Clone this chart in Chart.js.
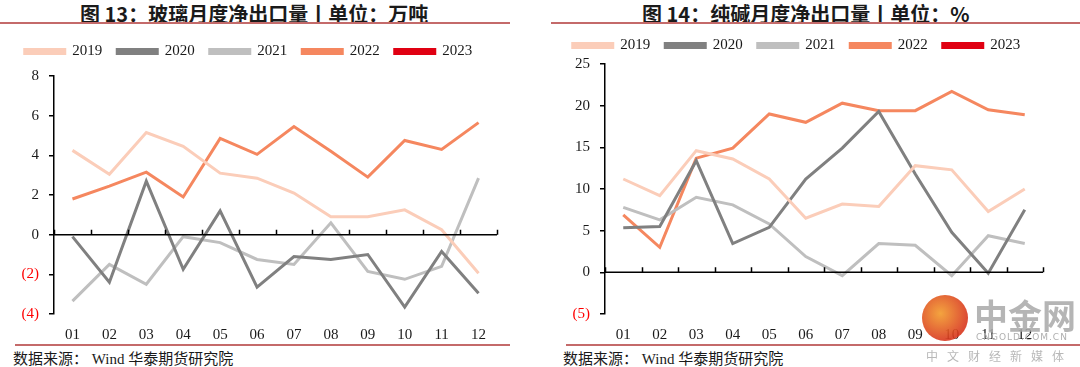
<!DOCTYPE html>
<html>
<head>
<meta charset="utf-8">
<script src="https://cdn.jsdelivr.net/npm/chart.js@4/dist/chart.umd.min.js"></script>
<style>
  html, body { margin: 0; padding: 0; background: #fff; }
  body { width: 1080px; height: 367px; position: relative; overflow: hidden; }
  .title { position: absolute; top: -1px; font: bold 20px "Noto Sans CJK SC", sans-serif; color: #1a1a1a; white-space: nowrap; }
  .rule { position: absolute; height: 2px; background: #c46a6a; }
  .source { position: absolute; top: 347px; font: 15px "Liberation Serif", "Noto Sans CJK SC", serif; color: #1a1a1a; white-space: nowrap; }
  .box { position: absolute; }
  .wm { position: absolute; left: 922px; top: 295px; width: 46px; height: 46px; border-radius: 50%;
        background: radial-gradient(circle at 40% 40%, #f39a2a, #d9381e 70%); opacity: 0.9; }
  .wm-big { position: absolute; left: 974px; top: 290px; font: bold 34px "Noto Sans CJK SC", sans-serif; color: #a8a8a8; opacity: 0.85; white-space: nowrap; }
  .wm-small { position: absolute; left: 976px; top: 332px; font: 9px "DejaVu Sans", sans-serif; color: #b0b0b0; letter-spacing: 1px; white-space: nowrap; }
  .wm-cn { position: absolute; left: 926px; top: 347px; font: 12px "Noto Sans CJK SC", sans-serif; color: #b8b8b8; letter-spacing: 9px; white-space: nowrap; }
</style>
</head>
<body>
<div class="title" style="left:80px">图 13：玻璃月度净出口量丨单位：万吨</div>
<div class="title" style="left:642px">图 14：纯碱月度净出口量丨单位：%</div>
<div class="rule" style="left:0;width:510px;top:22px"></div>
<div class="rule" style="left:551px;width:529px;top:22px"></div>

<div class="box" id="leftBox" style="left:0;top:29px;width:520px;height:316px"><canvas id="glassChart"></canvas></div>
<div class="box" id="rightBox" style="left:550px;top:23px;width:520px;height:322px"><canvas id="sodaChart"></canvas></div>

<div class="rule" style="left:15px;width:495px;top:344px"></div>
<div class="rule" style="left:566px;width:514px;top:344px"></div>
<div class="source" style="left:13px">数据来源：&nbsp;Wind 华泰期货研究院</div>
<div class="source" style="left:563px">数据来源：&nbsp;Wind 华泰期货研究院</div>

<div class="wm"></div>
<div class="wm-big">中金网</div>
<div class="wm-small">CNGOLD.COM.CN</div>
<div class="wm-cn">中文财经新媒体</div>

<script>
// categories
const months = ['01', '02', '03', '04', '05', '06', '07', '08', '09', '10', '11', '12'];
const years = ['2019', '2020', '2021', '2022', '2023'];

// glass net exports, 10k tons
const glass2019 = [4.25, 3.05, 5.15, 4.45, 3.1, 2.85, 2.1, 0.9, 0.9, 1.25, 0.25, -1.95];
const glass2020 = [-0.1, -2.4, 2.7, -1.75, 1.2, -2.65, -1.1, -1.25, -1.0, -3.65, -0.85, -2.95];
const glass2021 = [-3.35, -1.5, -2.5, -0.1, -0.4, -1.25, -1.5, 0.6, -1.85, -2.25, -1.6, 2.85];
const glass2022 = [1.8, 2.45, 3.15, 1.9, 4.85, 4.05, 5.45, 4.2, 2.9, 4.75, 4.3, 5.65];
const glass2023 = [];

// soda ash net exports, %
const soda2019 = [11.2, 9.2, 14.6, 13.6, 11.2, 6.5, 8.2, 7.9, 12.8, 12.3, 7.3, 10.0];
const soda2020 = [5.35, 5.5, 13.4, 3.45, 5.4, 11.2, 14.9, 19.3, 11.8, 4.8, -0.1, 7.5];
const soda2021 = [7.8, 6.3, 9.0, 8.1, 5.8, 1.9, -0.4, 3.45, 3.25, -0.4, 4.4, 3.45];
const soda2022 = [6.9, 3.0, 13.7, 14.9, 19.0, 18.0, 20.3, 19.4, 19.4, 21.7, 19.5, 18.9];
const soda2023 = [];

// y ticks
const glassTicks = { min: -4, max: 8, step: 2 };
const sodaTicks = { min: -5, max: 25, step: 5 };

const colors = ['#fbcdb9', '#808080', '#bfbfbf', '#f5875f', '#e00012'];
const tickFont = { family: '"Liberation Serif", serif', size: 15 };

// zero line with small tick marks between months
const zeroAxis = {
    id: 'zeroAxis',
    afterDatasetsDraw(chart) {
        const { ctx, chartArea, scales } = chart;
        const y0 = scales.y.getPixelForValue(0);
        const step = scales.x.getPixelForValue(1) - scales.x.getPixelForValue(0);
        ctx.save();
        ctx.strokeStyle = '#000';
        ctx.lineWidth = 1.5;
        ctx.beginPath();
        ctx.moveTo(chartArea.left, y0);
        ctx.lineTo(chartArea.right, y0);
        for (let i = 0; i <= months.length; i++) {
            const x = Math.round(scales.x.getPixelForValue(i) - step / 2) + 0.5;
            ctx.moveTo(x, y0);
            ctx.lineTo(x, y0 - 5);
        }
        ctx.stroke();
        ctx.restore();
    }
};

// extra gap under the legend
function legendGap(gap) {
    return {
        id: 'legendGap',
        beforeInit(chart) {
            const fit = chart.legend.fit;
            chart.legend.fit = function () {
                fit.call(this);
                this.height += gap;
            };
        }
    };
}

function makeChart(id, series, ticks, axisWidth, padRight, gap) {
    const ctx = document.getElementById(id).getContext('2d');
    return new Chart(ctx, {
        type: 'line',
        data: {
            labels: months,
            datasets: series.map((data, i) => ({
                label: years[i],
                data: data,
                borderColor: colors[i],
                backgroundColor: colors[i],
                borderWidth: 3,
                pointRadius: 0,
                tension: 0
            }))
        },
        options: {
            responsive: true,
            maintainAspectRatio: false,
            animation: false,
            layout: { padding: { left: 0, right: padRight, top: 0, bottom: 0 } },
            plugins: {
                legend: {
                    position: 'top',
                    labels: {
                        boxWidth: 40,
                        boxHeight: 4,
                        padding: 15,
                        color: '#1a1a1a',
                        font: tickFont
                    }
                },
                tooltip: { enabled: false }
            },
            scales: {
                x: {
                    offset: true,
                    grid: { display: false },
                    border: { display: false },
                    ticks: { color: '#1a1a1a', font: tickFont, maxRotation: 0, padding: 4 },
                    afterFit: (scale) => { scale.height = 31; }
                },
                y: {
                    min: ticks.min,
                    max: ticks.max,
                    grid: { display: true, drawOnChartArea: false, drawTicks: true, tickLength: 5, color: '#000', lineWidth: 1.5 },
                    border: { display: true, color: '#000', width: 1.5 },
                    ticks: {
                        stepSize: ticks.step,
                        font: tickFont,
                        padding: 10,
                        color: (c) => c.tick.value < 0 ? '#ff0000' : '#1a1a1a',
                        callback: (v) => v < 0 ? '(' + (-v) + ')' : v
                    },
                    afterFit: (scale) => { scale.width = axisWidth; }
                }
            }
        },
        plugins: [zeroAxis, legendGap(gap)]
    });
}

makeChart('glassChart', [glass2019, glass2020, glass2021, glass2022, glass2023], glassTicks, 54, 23, 7);
makeChart('sodaChart', [soda2019, soda2020, soda2021, soda2022, soda2023], sodaTicks, 55, 27, 1);
</script>
</body>
</html>
